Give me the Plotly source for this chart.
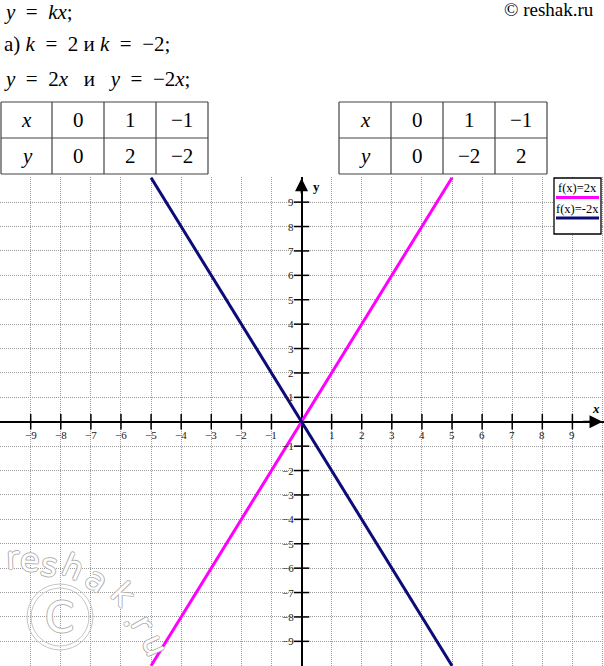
import plotly.graph_objects as go

# ---------------- data ----------------
header_lines = [
    "<i>y</i>\u2002=\u2002<i>kx</i>;",
    "а) <i>k</i>\u2002=\u20022 и <i>k</i>\u2002=\u2002−2;",
    "<i>y</i>\u2002=\u20022<i>x</i>\u2002 и \u2002<i>y</i>\u2002=\u2002−2<i>x</i>;",
]
table_x = [0, 1, -1]
table_y_left = [0, 2, -2]     # y = 2x
table_y_right = [0, -2, 2]    # y = -2x

line1_name = "f(x)=2x"
line1_x = [-5, 5]
line1_y = [-10, 10]
line2_name = "f(x)=-2x"
line2_x = [-5, 5]
line2_y = [10, -10]

x_tick_vals = [-9, -8, -7, -6, -5, -4, -3, -2, -1, 1, 2, 3, 4, 5, 6, 7, 8, 9]
y_tick_vals = [9, 8, 7, 6, 5, 4, 3, 2, 1, -1, -2, -3, -4, -5, -6, -7, -8, -9]

# ---------------- helpers ----------------
W, H = 604, 666
SERIF = "Liberation Serif"
MAG = "#ff00ff"
NAVY = "#0c0c78"


def fx(p):
    return p / W


def fy(p):
    return 1 - p / H


def num(v):
    return str(v).replace("-", "−")


fig = go.Figure()

fig.add_trace(go.Scatter(x=line1_x, y=line1_y, mode="lines", name=line1_name,
                         line=dict(color=MAG, width=3)))
fig.add_trace(go.Scatter(x=line2_x, y=line2_y, mode="lines", name=line2_name,
                         line=dict(color=NAVY, width=3)))

# tick marks on the axes
fig.add_trace(go.Scatter(x=x_tick_vals, y=[0] * len(x_tick_vals), mode="markers",
                         marker=dict(symbol="line-ns-open", size=11, color="black",
                                     line=dict(color="black", width=1.5)),
                         hoverinfo="skip"))
fig.add_trace(go.Scatter(x=[0] * len(y_tick_vals), y=y_tick_vals, mode="markers",
                         marker=dict(symbol="line-ew-open", size=11, color="black",
                                     line=dict(color="black", width=1.5)),
                         hoverinfo="skip"))

ann = []
shapes = []

# tick labels
for v in x_tick_vals:
    ann.append(dict(x=v, y=0, xref="x", yref="y", text=num(v), showarrow=False,
                    xanchor="center", yanchor="middle", yshift=-13,
                    font=dict(family=SERIF, size=11, color="#1a1a1a")))
for v in y_tick_vals:
    ann.append(dict(x=0, y=v, xref="x", yref="y", text=num(v), showarrow=False,
                    xanchor="right", yanchor="middle", xshift=-6,
                    font=dict(family=SERIF, size=11, color="#1a1a1a")))

# axis names
ann.append(dict(x=9.78, y=0.56, xref="x", yref="y", text="<b><i>x</i></b>", showarrow=False,
                xanchor="center", yanchor="middle",
                font=dict(family=SERIF, size=13, color="black")))
ann.append(dict(x=0.5, y=9.62, xref="x", yref="y", text="<b>y</b>", showarrow=False,
                xanchor="center", yanchor="middle",
                font=dict(family=SERIF, size=13, color="black")))

# arrowheads
ann.append(dict(x=10.0, y=0, ax=9.3, ay=0, xref="x", yref="y", axref="x", ayref="y",
                text="", showarrow=True, arrowhead=2, arrowsize=1.3, arrowwidth=2,
                arrowcolor="black"))
ann.append(dict(x=0, y=9.98, ax=0, ay=9.3, xref="x", yref="y", axref="x", ayref="y",
                text="", showarrow=True, arrowhead=2, arrowsize=1.3, arrowwidth=2,
                arrowcolor="black"))

# header text
for t, yc in zip(header_lines, [12, 44, 79]):
    ann.append(dict(x=fx(2), y=fy(yc), xref="paper", yref="paper", text=t,
                    showarrow=False, xanchor="left", yanchor="middle",
                    font=dict(family=SERIF, size=21, color="black")))
ann.append(dict(x=fx(596), y=fy(10), xref="paper", yref="paper", text="© reshak.ru",
                showarrow=False, xanchor="right", yanchor="middle",
                font=dict(family=SERIF, size=19, color="black")))


# tables
def draw_table(x_edges, yvals):
    y_edges = [102, 138, 174]
    lc = dict(color="#444", width=1.2)
    for xe in x_edges:
        shapes.append(dict(type="line", xref="paper", yref="paper", x0=fx(xe), x1=fx(xe),
                           y0=fy(y_edges[0]), y1=fy(y_edges[-1]), line=lc))
    for ye in y_edges:
        shapes.append(dict(type="line", xref="paper", yref="paper", x0=fx(x_edges[0]),
                           x1=fx(x_edges[-1]), y0=fy(ye), y1=fy(ye), line=lc))
    rows = [["<i>x</i>"] + [num(v) for v in table_x],
            ["<i>y</i>"] + [num(v) for v in yvals]]
    for r, row in enumerate(rows):
        yc = (y_edges[r] + y_edges[r + 1]) / 2
        for c, txt in enumerate(row):
            xc = (x_edges[c] + x_edges[c + 1]) / 2
            ann.append(dict(x=fx(xc), y=fy(yc), xref="paper", yref="paper", text=txt,
                            showarrow=False, xanchor="center", yanchor="middle",
                            font=dict(family=SERIF, size=21, color="black")))


draw_table([1, 52, 104, 156, 208], table_y_left)
draw_table([339, 391, 443, 495, 547], table_y_right)

# legend box
shapes.append(dict(type="rect", xref="paper", yref="paper", x0=fx(554), x1=fx(601),
                   y0=fy(178), y1=fy(234), fillcolor="white",
                   line=dict(color="black", width=1.3)))
shapes.append(dict(type="line", xref="paper", yref="paper", x0=fx(556), x1=fx(599),
                   y0=fy(197.5), y1=fy(197.5), line=dict(color=MAG, width=3)))
shapes.append(dict(type="line", xref="paper", yref="paper", x0=fx(556), x1=fx(599),
                   y0=fy(218), y1=fy(218), line=dict(color=NAVY, width=3)))
ann.append(dict(x=fx(577.5), y=fy(188), xref="paper", yref="paper", text=line1_name,
                showarrow=False, xanchor="center", yanchor="middle",
                font=dict(family=SERIF, size=12.5, color="black")))
ann.append(dict(x=fx(577.5), y=fy(209), xref="paper", yref="paper", text=line2_name,
                showarrow=False, xanchor="center", yanchor="middle",
                font=dict(family=SERIF, size=12.5, color="black")))

# watermark (reshak.ru on an arc + ©)
wm_shadow = "1px 0 #b0b0b0, -1px 0 #b0b0b0, 0 1px #b0b0b0, 0 -1px #b0b0b0"
wm_chars = [("r", 13, 558, -2), ("e", 30, 560, 3), ("s", 49, 565, 10), ("h", 73, 567, 24),
            ("a", 97, 580, 34), ("k", 123, 594, 46), (".", 134, 619, 56),
            ("r", 143, 624, 60), ("u", 155, 645, 66)]
for ch, xx, yy, ang in wm_chars:
    ann.append(dict(x=fx(xx), y=fy(yy), xref="paper", yref="paper", text=ch,
                    showarrow=False, textangle=ang, xanchor="center", yanchor="middle",
                    font=dict(family="DejaVu Sans", size=32, color="white", shadow=wm_shadow)))
for r in (33, 29):
    shapes.append(dict(type="circle", xref="paper", yref="paper", x0=fx(60 - r),
                       x1=fx(60 + r), y0=fy(617 - r), y1=fy(617 + r),
                       line=dict(color="#c4c4c4", width=1)))
ann.append(dict(x=fx(60), y=fy(617), xref="paper", yref="paper", text="C",
                showarrow=False, xanchor="center", yanchor="middle",
                font=dict(family="DejaVu Sans", size=42, color="white", shadow=wm_shadow)))

axis_common = dict(showgrid=True, gridcolor="#9a9a9a", griddash="1px,1px", gridwidth=1,
                   dtick=1, tick0=0, showticklabels=False, ticks="", zeroline=True,
                   zerolinecolor="black", zerolinewidth=2, showline=False, fixedrange=True)

fig.update_layout(
    width=W, height=H,
    margin=dict(l=0, r=0, t=0, b=0),
    paper_bgcolor="white", plot_bgcolor="white",
    showlegend=False,
    xaxis=dict(range=[-10.02, 10.05], domain=[0, 1], **axis_common),
    yaxis=dict(range=[-10.01, 10.03], domain=[0, 1 - 177 / H], **axis_common),
    annotations=ann,
    shapes=shapes,
)

fig.write_html("out.html")
